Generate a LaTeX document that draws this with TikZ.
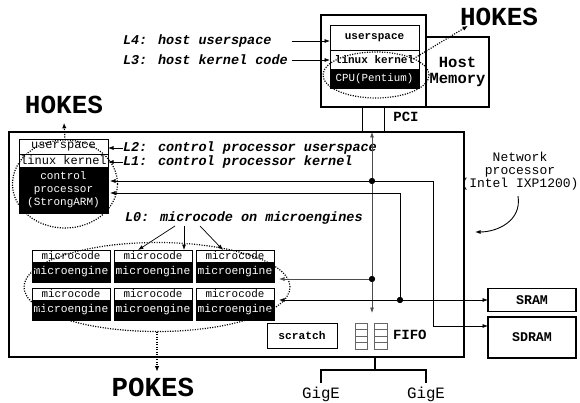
\documentclass[tikz,border=0pt]{standalone}
\usepackage{fontspec}
\setmainfont{Liberation Mono}
\usetikzlibrary{arrows.meta,shapes.geometric,calc}
\newcommand\myfs[2]{\fontsize{#1pt}{#2pt}\selectfont}
\begin{document}
\begin{tikzpicture}[x=1pt,y=-1pt,
  every node/.style={inner sep=0pt, outer sep=0pt},
  sbox/.style={draw, line width=0.7pt, fill=white},
  bbox/.style={draw, line width=0.7pt, fill=black, text=white},
  ell/.style={ellipse, draw, line width=1.2pt, dash pattern=on 1.1pt off 1.4pt},
  lab/.style={anchor=west, font=\myfs{13.5}{14}\bfseries\itshape},
  arr/.style={line width=0.7pt, -{Latex[length=5.5pt,width=4pt]}},
  arrb/.style={line width=0.7pt, {Latex[length=5.5pt,width=4pt]}-{Latex[length=5.5pt,width=4pt]}},
  arrs/.style={line width=0.7pt, {Latex[length=5.5pt,width=4pt]}-},
  dotarr/.style={line width=1.2pt, dash pattern=on 1.1pt off 1.4pt, -{Latex[length=5.5pt,width=4.5pt]}},
  dot/.style={circle, fill=black, minimum size=6pt},
  fcell/.style={draw=black!60, line width=0.8pt},
  bigbox/.style={draw, line width=1.3pt},
  mcw/.style={minimum width=78pt},
  thickline/.style={line width=2.5pt}
]
\useasboundingbox (0,0) rectangle (580,403);
\fill[white] (0,0) rectangle (580,403);

% ---------- host ----------
\node[draw, line width=1.4pt, minimum width=105pt, minimum height=92pt] (hostbox) at (373.5,61) {};
\node[draw, line width=1.2pt, minimum width=63pt, minimum height=70pt, align=center,
      font=\myfs{15.5}{16}\bfseries] (hmem) at (457.5,72) {Host\\Memory};
\node[sbox, minimum width=89pt, minimum height=25pt, font=\myfs{11}{12}\bfseries] (hus) at (374.5,37.5) {userspace};
\node[sbox, minimum width=89pt, minimum height=19pt, font=\myfs{11}{12}\bfseries] (hlk) at (374.5,59.5) {linux kernel};
\node[bbox, minimum width=89pt, minimum height=19pt, font=\myfs{10.8}{12}] (hcpu) at (374.5,78.5) {CPU(Pentium)};
\node[ell, minimum width=106pt, minimum height=46pt] (hell) at (376,75) {};
\node[font=\myfs{26}{26}\bfseries] (hokes1) at (499,17) {HOKES};
\draw[dotarr] (hell.north east) -- ([xshift=8pt]hokes1.south west);

\node[lab] (L4) at (123,41) {L4: host userspace};
\node[lab] (L3) at (123,60) {L3: host kernel code};
\coordinate (l34x) at ([xshift=4pt]L3.east);
\draw[arr] (L4.east -| l34x) -- (hus.west |- L4.east);
\draw[arr] (l34x) -- (hlk.west |- L3.east);

% ---------- network processor box ----------
\node[bigbox, minimum width=455pt, minimum height=225pt] (np) at (236.5,244.5) {};
\coordinate (pci1) at ([xshift=-11.5pt]hostbox.south);
\coordinate (pci2) at ([xshift=10.5pt]hostbox.south);
\draw[line width=0.8pt] (pci1) -- (pci1 |- np.north);
\draw[line width=0.8pt] (pci2) -- (pci2 |- np.north);
\node[font=\myfs{14}{14}\bfseries] (pci) at (406,117) {PCI};

% control processor
\node[sbox, minimum width=89pt, minimum height=15pt, font=\myfs{12}{12}] (cpus) at (63.5,146.5) {userspace};
\node[sbox, minimum width=89pt, minimum height=13pt, font=\myfs{12}{12}] (cplk) at (63.5,160.5) {linux kernel};
\node[bbox, minimum width=89pt, minimum height=46pt, align=center, font=\myfs{11}{13}] (cp) at (63.5,190) {control\\processor\\(StrongARM)};
\node[ell, minimum width=105pt, minimum height=88pt] (cpell) at (65,184) {};
\node[font=\myfs{26}{26}\bfseries] (hokes2) at (64,105) {HOKES};
\draw[dotarr] (cpell.north) -- ([yshift=-9pt]hokes2.south);

\node[lab] (L2) at (123,148) {L2: control processor userspace};
\node[lab] (L1) at (123,162) {L1: control processor kernel};
\draw[arr] (L2.west) -- (cpus.east |- L2.west);
\draw[arr] (L1.west) -- (cplk.east |- L1.west);

% microengines
\foreach \c/\x in {1/71,2/153,3/235}{
  \node[sbox, mcw, minimum height=12pt, font=\myfs{10.9}{11}] (mc1\c) at (\x,256) {microcode};
  \node[bbox, mcw, minimum height=20pt, font=\myfs{11.3}{12}] (me1\c) at (\x,272) {microengine};
  \node[sbox, mcw, minimum height=12pt, font=\myfs{10.9}{11}] (mc2\c) at (\x,294) {microcode};
  \node[bbox, mcw, minimum height=20pt, font=\myfs{11.3}{12}] (me2\c) at (\x,310) {microengine};
}
\node[ell, minimum width=266pt, minimum height=89pt] (meell) at (157,287) {};
\node[font=\myfs{27.5}{28}\bfseries] (pokes) at (153,387) {POKES};
\draw[dotarr, shorten >=6pt] (meell.south) -- (meell.south |- pokes.north);

\node[lab] (L0) at (125,218) {L0: microcode on microengines};
\draw[arr] ([shift={(50,8)}]L0.west) -- ([xshift=24pt]mc12.north west);
\draw[arr] ([shift={(59,8)}]L0.west) -- ([xshift=-8pt]mc12.north east);
\draw[arr] ([shift={(75,8)}]L0.west) -- ([xshift=27pt]mc13.north west);

% scratch and FIFO
\node[sbox, line width=1pt, minimum width=70pt, minimum height=25pt, font=\myfs{11.2}{12}\bfseries] (scr) at (302,335.5) {scratch};
\node[fcell, minimum width=12pt, minimum height=26pt] (f1) at (361,336) {};
\node[fcell, minimum width=13pt, minimum height=26pt] (f2) at (380.5,336) {};
\foreach \f in {f1,f2}{\foreach \i in {1,2,3}{
  \draw[black!60, line width=0.8pt] ($(\f.north west)!\i/4!(\f.south west)$) -- ($(\f.north east)!\i/4!(\f.south east)$);
}}
\node[anchor=west, font=\myfs{14}{14}\bfseries] (fifo) at (393,335) {FIFO};

% memories
\node[draw, line width=1.2pt, minimum width=88pt, minimum height=23pt, font=\myfs{13.3}{14}\bfseries] (sram) at (532,300) {SRAM};
\node[draw, line width=1.2pt, minimum width=88pt, minimum height=41pt, font=\myfs{13.3}{14}\bfseries] (sdram) at (532,337.5) {SDRAM};

% buses
\node[dot] (d1) at (372,181) {};
\node[dot] (d2) at (372,279) {};
\node[dot] (d3) at (400,300) {};
\coordinate (vbot) at (372,313);
\draw[arrb, black!70] (d1 |- np.north) -- (vbot);
\coordinate (sdin) at ([yshift=11.5pt]sdram.west);
\draw[arrb] ([xshift=2pt]cp.east |- d1) -| ($(sdin)+(-55,0)$) -- (sdin);
\draw[arrs] ([xshift=2pt,yshift=-3pt]cp.east) -| (d3);
\draw[arrb] ([xshift=5pt]me23.east |- d3) -- (sram.west);
\draw[arr, black!70] (d2) -- ([xshift=5pt]me13.east |- d2);
\node[dot] at (d1) {};
\node[dot] at (d2) {};
\node[dot] at (d3) {};

% GigE
\node[font=\myfs{15.8}{16}] (gig1) at (321,394.5) {GigE};
\node[font=\myfs{15.8}{16}] (gig2) at (426,394.5) {GigE};
\coordinate (gbar) at (375,370);
\draw[thickline] (np.south -| gbar) -- (gbar);
\draw[thickline] ([yshift=4pt]gig1.north) |- (gbar) -| ([yshift=4pt]gig2.north);

% network processor label
\node[align=center, font=\myfs{13}{13}] (nplab) at (520,171) {Network\\processor\\(Intel IXP1200)};
\coordinate (nptip) at (475,232);
\draw[arr, line width=0.9pt] ([shift={(-2,6)}]nplab.south) .. controls +(4,25) and +(22,0) .. (nptip);
\end{tikzpicture}
\end{document}
